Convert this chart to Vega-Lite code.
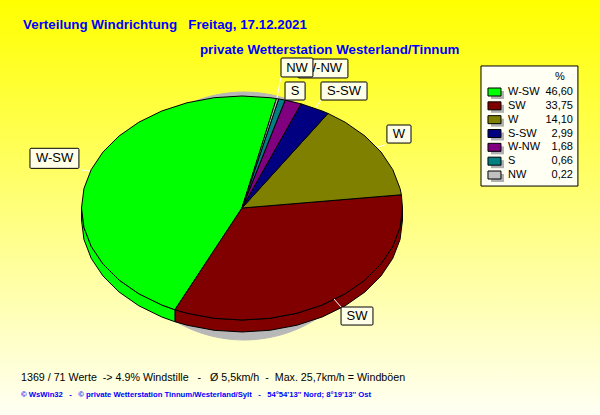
{"$schema":"https://vega.github.io/schema/vega-lite/v6.json","width":600,"height":415,"padding":0,"autosize":{"type":"fit","contains":"padding"},"background":"#ffffff","config":{"view":{"stroke":null},"text":{"font":"Liberation Sans"}},
"datasets":{
"shadow":[{"u":0.0125,"v":1.0356},{"u":0.2895,"v":0.9688},{"u":0.5332,"v":0.7766},{"u":0.714,"v":0.4821},{"u":0.8102,"v":0.1208},{"u":0.8102,"v":-0.2636},{"u":0.714,"v":-0.6249},{"u":0.5332,"v":-0.9194},{"u":0.2895,"v":-1.1116},{"u":0.0125,"v":-1.1784},{"u":-0.2645,"v":-1.1116},{"u":-0.5082,"v":-0.9194},{"u":-0.689,"v":-0.6249},{"u":-0.7852,"v":-0.2636},{"u":-0.7852,"v":0.1208},{"u":-0.689,"v":0.4821},{"u":-0.5082,"v":0.7766},{"u":-0.2645,"v":0.9688}],
"rim":[
{"s":"SW","u":1,"v":0},{"s":"SW","u":0.9848,"v":-0.1736},{"s":"SW","u":0.9397,"v":-0.342},{"s":"SW","u":0.866,"v":-0.5},{"s":"SW","u":0.766,"v":-0.6428},{"s":"SW","u":0.6428,"v":-0.766},{"s":"SW","u":0.5,"v":-0.866},{"s":"SW","u":0.342,"v":-0.9397},{"s":"SW","u":0.1736,"v":-0.9848},{"s":"SW","u":0,"v":-1},{"s":"SW","u":-0.1736,"v":-0.9848},{"s":"SW","u":-0.342,"v":-0.9397},{"s":"SW","u":-0.4179,"v":-0.9085},{"s":"SW","u":-0.4179,"v":-1.0155},{"s":"SW","u":-0.342,"v":-1.0467},{"s":"SW","u":-0.1736,"v":-1.0918},{"s":"SW","u":0,"v":-1.107},{"s":"SW","u":0.1736,"v":-1.0918},{"s":"SW","u":0.342,"v":-1.0467},{"s":"SW","u":0.5,"v":-0.973},{"s":"SW","u":0.6428,"v":-0.873},{"s":"SW","u":0.766,"v":-0.7498},{"s":"SW","u":0.866,"v":-0.607},{"s":"SW","u":0.9397,"v":-0.449},{"s":"SW","u":0.9848,"v":-0.2806},{"s":"SW","u":1,"v":-0.107},
{"s":"W-SW","u":-0.4179,"v":-0.9085},{"s":"W-SW","u":-0.5,"v":-0.866},{"s":"W-SW","u":-0.6428,"v":-0.766},{"s":"W-SW","u":-0.766,"v":-0.6428},{"s":"W-SW","u":-0.866,"v":-0.5},{"s":"W-SW","u":-0.9397,"v":-0.342},{"s":"W-SW","u":-0.9848,"v":-0.1736},{"s":"W-SW","u":-1,"v":0},{"s":"W-SW","u":-1,"v":-0.107},{"s":"W-SW","u":-0.9848,"v":-0.2806},{"s":"W-SW","u":-0.9397,"v":-0.449},{"s":"W-SW","u":-0.866,"v":-0.607},{"s":"W-SW","u":-0.766,"v":-0.7498},{"s":"W-SW","u":-0.6428,"v":-0.873},{"s":"W-SW","u":-0.5,"v":-0.973},{"s":"W-SW","u":-0.4179,"v":-1.0155}],
"pie":[
{"s":"W-SW","u":0,"v":0},{"s":"W-SW","u":-0.4179,"v":-0.9085},{"s":"W-SW","u":-0.5,"v":-0.866},{"s":"W-SW","u":-0.6428,"v":-0.766},{"s":"W-SW","u":-0.766,"v":-0.6428},{"s":"W-SW","u":-0.866,"v":-0.5},{"s":"W-SW","u":-0.9397,"v":-0.342},{"s":"W-SW","u":-0.9848,"v":-0.1736},{"s":"W-SW","u":-1,"v":0},{"s":"W-SW","u":-0.9848,"v":0.1736},{"s":"W-SW","u":-0.9397,"v":0.342},{"s":"W-SW","u":-0.866,"v":0.5},{"s":"W-SW","u":-0.766,"v":0.6428},{"s":"W-SW","u":-0.6428,"v":0.766},{"s":"W-SW","u":-0.5,"v":0.866},{"s":"W-SW","u":-0.342,"v":0.9397},{"s":"W-SW","u":-0.1736,"v":0.9848},{"s":"W-SW","u":0,"v":1},{"s":"W-SW","u":0.1736,"v":0.9848},{"s":"W-SW","u":0.2147,"v":0.9767},
{"s":"SW","u":0,"v":0},{"s":"SW","u":0.993,"v":0.1184},{"s":"SW","u":1,"v":0},{"s":"SW","u":0.9848,"v":-0.1736},{"s":"SW","u":0.9397,"v":-0.342},{"s":"SW","u":0.866,"v":-0.5},{"s":"SW","u":0.766,"v":-0.6428},{"s":"SW","u":0.6428,"v":-0.766},{"s":"SW","u":0.5,"v":-0.866},{"s":"SW","u":0.342,"v":-0.9397},{"s":"SW","u":0.1736,"v":-0.9848},{"s":"SW","u":0,"v":-1},{"s":"SW","u":-0.1736,"v":-0.9848},{"s":"SW","u":-0.342,"v":-0.9397},{"s":"SW","u":-0.4179,"v":-0.9085},
{"s":"W","u":0,"v":0},{"s":"W","u":0.5358,"v":0.8443},{"s":"W","u":0.6428,"v":0.766},{"s":"W","u":0.766,"v":0.6428},{"s":"W","u":0.866,"v":0.5},{"s":"W","u":0.9397,"v":0.342},{"s":"W","u":0.9848,"v":0.1736},{"s":"W","u":0.993,"v":0.1184},
{"s":"S-SW","u":0,"v":0},{"s":"S-SW","u":0.3681,"v":0.9298},{"s":"S-SW","u":0.5,"v":0.866},{"s":"S-SW","u":0.5358,"v":0.8443},
{"s":"W-NW","u":0,"v":0},{"s":"W-NW","u":0.2689,"v":0.9632},{"s":"W-NW","u":0.3681,"v":0.9298},
{"s":"S","u":0,"v":0},{"s":"S","u":0.2284,"v":0.9736},{"s":"S","u":0.2689,"v":0.9632},
{"s":"NW","u":0,"v":0},{"s":"NW","u":0.2147,"v":0.9767},{"s":"NW","u":0.2284,"v":0.9736}],
"legend":[{"name":"W-SW","pct":"46,60"},{"name":"SW","pct":"33,75"},{"name":"W","pct":"14,10"},{"name":"S-SW","pct":"2,99"},{"name":"W-NW","pct":"1,68"},{"name":"S","pct":"0,66"},{"name":"NW","pct":"0,22"}],
"leaders":[{"a":-0.997,"b":-0.947,"c":0.339,"d":0.33},{"a":0.847,"b":0.891,"c":0.545,"d":0.5625},{"a":0.461,"b":0.492,"c":0.902,"d":0.964},{"a":0.241,"b":0.218,"c":1.161,"d":0.982},{"a":0.573,"b":0.617,"c":-0.8125,"d":-0.884}],
"labels":[{"t":"W-SW","a":-1.321,"b":-1.016,"c":0.533,"d":0.354,"e":-1.168,"f":0.444},{"t":"SW","a":0.617,"b":0.816,"c":-0.884,"d":-1.045,"e":0.7165,"f":-0.964},{"t":"W","a":0.903,"b":1.053,"c":0.741,"d":0.58,"e":0.978,"f":0.661},{"t":"S-SW","a":0.492,"b":0.779,"c":1.125,"d":0.964,"e":0.636,"f":1.045},{"t":"S","a":0.268,"b":0.393,"c":1.125,"d":0.964,"e":0.33,"f":1.045},{"t":"NW","a":0.243,"b":0.442,"c":1.339,"d":1.17,"e":0.343,"f":1.254}],
"labelBehind":[{"t":"W-NW","a":0.349,"b":0.66,"c":1.33,"d":1.161,"e":0.505,"f":1.246}]
},
"resolve":{"scale":{"y":"independent"}},
"layer":[
{"layer":[
{"data":{"values":[{}]},"mark":{"type":"rect","fill":{"gradient":"linear","x1":0,"y1":0,"x2":0,"y2":1,"stops":[{"offset":0,"color":"#ffff00"},{"offset":1,"color":"#fffff4"}]}},"encoding":{"x":{"datum":-1.5078,"type":"quantitative","scale":{"domain":[-1.5078,2.2305],"nice":false,"zero":false},"axis":null},"x2":{"datum":2.2305},"y":{"datum":1.8571,"type":"quantitative","scale":{"domain":[-1.8482,1.8571],"nice":false,"zero":false},"axis":null},"y2":{"datum":-1.8482}}},
{"data":{"name":"shadow"},"transform":[{"window":[{"op":"row_number","as":"i"}]}],"mark":{"type":"line","interpolate":"cardinal-closed","fill":"#b8b8b8","stroke":"#b8b8b8","strokeWidth":1},"encoding":{"x":{"field":"u","type":"quantitative"},"y":{"field":"v","type":"quantitative"},"order":{"field":"i","type":"quantitative"}}},
{"data":{"name":"rim"},"transform":[{"window":[{"op":"row_number","as":"i"}]}],"mark":{"type":"line","interpolate":"linear-closed","stroke":"#000000","strokeWidth":1},"encoding":{"x":{"field":"u","type":"quantitative"},"y":{"field":"v","type":"quantitative"},"order":{"field":"i","type":"quantitative"},"fill":{"field":"s","type":"nominal","scale":{"domain":["W-SW","SW","W","S-SW","W-NW","S","NW"],"range":["#00ff00","#800000","#808000","#000080","#800080","#008080","#c0c0c0"]},"legend":null}}},
{"data":{"name":"pie"},"transform":[{"window":[{"op":"row_number","as":"i"}]}],"mark":{"type":"line","interpolate":"linear-closed","stroke":"#000000","strokeWidth":1},"encoding":{"x":{"field":"u","type":"quantitative"},"y":{"field":"v","type":"quantitative"},"order":{"field":"i","type":"quantitative"},"fill":{"field":"s","type":"nominal","legend":null}}},
{"data":{"name":"leaders"},"mark":{"type":"rule","stroke":"#ffffff","strokeWidth":1},"encoding":{"x":{"field":"a","type":"quantitative"},"x2":{"field":"b"},"y":{"field":"c","type":"quantitative"},"y2":{"field":"d"}}},
{"data":{"name":"labelBehind"},"mark":{"type":"rect","fill":"#808080","xOffset":4,"yOffset":4},"encoding":{"x":{"field":"a","type":"quantitative"},"x2":{"field":"b"},"y":{"field":"c","type":"quantitative"},"y2":{"field":"d"}}},
{"data":{"name":"labelBehind"},"mark":{"type":"rect","fill":"#ffffe8","stroke":"#000000","strokeWidth":1,"cornerRadius":1},"encoding":{"x":{"field":"a","type":"quantitative"},"x2":{"field":"b"},"y":{"field":"c","type":"quantitative"},"y2":{"field":"d"}}},
{"data":{"name":"labelBehind"},"mark":{"type":"text","fontSize":13,"color":"#000000","align":"center","baseline":"middle","font":"Liberation Sans"},"encoding":{"x":{"field":"e","type":"quantitative"},"y":{"field":"f","type":"quantitative"},"text":{"field":"t"}}},
{"data":{"name":"labels"},"mark":{"type":"rect","fill":"#808080","xOffset":4,"yOffset":4},"encoding":{"x":{"field":"a","type":"quantitative"},"x2":{"field":"b"},"y":{"field":"c","type":"quantitative"},"y2":{"field":"d"}}},
{"data":{"name":"labels"},"mark":{"type":"rect","fill":"#ffffe8","stroke":"#000000","strokeWidth":1,"cornerRadius":1},"encoding":{"x":{"field":"a","type":"quantitative"},"x2":{"field":"b"},"y":{"field":"c","type":"quantitative"},"y2":{"field":"d"}}},
{"data":{"name":"labels"},"mark":{"type":"text","fontSize":13,"color":"#000000","align":"center","baseline":"middle","font":"Liberation Sans"},"encoding":{"x":{"field":"e","type":"quantitative"},"y":{"field":"f","type":"quantitative"},"text":{"field":"t"}}},
{"data":{"values":[{}]},"mark":{"type":"rect","fill":"#000000","xOffset":3,"yOffset":3},"encoding":{"x":{"datum":1.489},"x2":{"datum":2.093},"y":{"datum":1.268},"y2":{"datum":0.196}}},
{"data":{"values":[{}]},"mark":{"type":"rect","fill":"#fffff4","stroke":"#000000","strokeWidth":1},"encoding":{"x":{"datum":1.489},"x2":{"datum":2.093},"y":{"datum":1.268},"y2":{"datum":0.196}}},
{"data":{"values":[{}]},"mark":{"type":"text","text":"%","fontSize":11,"color":"#000000","align":"center","baseline":"middle"},"encoding":{"x":{"datum":1.981},"y":{"datum":1.174}}},
{"data":{"values":[{}]},"mark":{"type":"text","text":"Verteilung Windrichtung \u00a0 Freitag, 17.12.2021","fontSize":13.35,"fontWeight":"bold","color":"#0000ff","align":"left","baseline":"alphabetic"},"encoding":{"x":{"datum":-1.364},"y":{"datum":1.598}}},
{"data":{"values":[{}]},"mark":{"type":"text","text":"private Wetterstation Westerland/Tinnum","fontSize":13.35,"fontWeight":"bold","color":"#0000ff","align":"left","baseline":"alphabetic"},"encoding":{"x":{"datum":-0.262},"y":{"datum":1.375}}},
{"data":{"values":[{}]},"mark":{"type":"text","text":"1369 / 71 Werte \u00a0-> 4.9% Windstille \u00a0 - \u00a0 Ø 5,5km/h \u00a0- \u00a0Max. 25,7km/h = Windböen","fontSize":10.7,"color":"#000000","align":"left","baseline":"alphabetic"},"encoding":{"x":{"datum":-1.377},"y":{"datum":-1.545}}},
{"data":{"values":[{}]},"mark":{"type":"text","text":"© WsWin32 \u00a0 - \u00a0 © private Wetterstation Tinnum/Westerland/Sylt \u00a0 - \u00a0 54°54'13'' Nord; 8°19'13'' Ost","fontSize":7.7,"fontWeight":"bold","color":"#0000ff","align":"left","baseline":"alphabetic","font":"Liberation Sans"},"encoding":{"x":{"datum":-1.377},"y":{"datum":-1.6875}}}
]},
{"data":{"name":"legend"},"encoding":{"y":{"field":"name","type":"ordinal","sort":null,"scale":{"type":"point","domain":["W-SW","SW","W","S-SW","W-NW","S","NW"],"range":[92,175],"padding":0},"axis":null}},"layer":[
{"mark":{"type":"rect","width":13,"height":8,"fill":"#b0b0b0","xOffset":3,"yOffset":3},"encoding":{"x":{"datum":1.573}}},
{"mark":{"type":"rect","width":13,"height":8,"stroke":"#000000","strokeWidth":1},"encoding":{"x":{"datum":1.573},"fill":{"field":"name","type":"nominal","legend":null}}},
{"mark":{"type":"text","fontSize":11,"color":"#000000","align":"left","baseline":"middle"},"encoding":{"x":{"datum":1.657},"text":{"field":"name"}}},
{"mark":{"type":"text","fontSize":11,"color":"#000000","align":"right","baseline":"middle"},"encoding":{"x":{"datum":2.062},"text":{"field":"pct"}}}
]}
]}
